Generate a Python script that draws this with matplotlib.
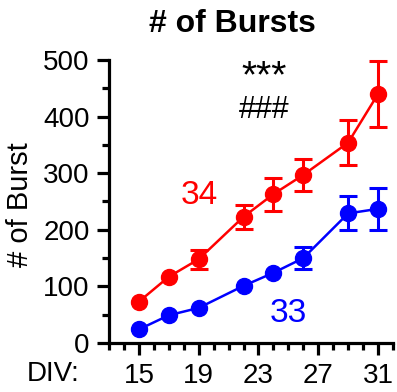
import matplotlib
matplotlib.use("Agg")
import matplotlib.pyplot as plt
from matplotlib.ticker import MultipleLocator

plt.rcParams['font.family'] = ['Liberation Sans', 'DejaVu Sans']

# data (0 = error bar hidden behind the marker)
div = [15, 17, 19, 22, 24, 26, 29, 31]
red_mean = [73, 117, 148, 223, 263, 297, 354, 440]
red_err = [0, 0, 17, 21, 29, 28, 40, 58]
blue_mean = [24, 49, 62, 101, 124, 150, 229, 237]
blue_err = [0, 0, 0, 0, 0, 19, 30, 37]
xticks = [15, 19, 23, 27, 31]
yticks = [0, 100, 200, 300, 400, 500]

fig = plt.figure(figsize=(3.97, 3.92), dpi=100)
ax = fig.add_axes([109/397, 49/392, 284/397, 283/392])

for mean, err, col in [(red_mean, red_err, '#ff0000'), (blue_mean, blue_err, '#0000ff')]:
    ax.plot(div, mean, color=col, lw=1.8, marker='o', ms=11.5, clip_on=False, zorder=4)
    shown = [i for i, e in enumerate(err) if e > 0]
    ax.errorbar([div[i] for i in shown], [mean[i] for i in shown],
                yerr=[err[i] for i in shown], fmt='none', ecolor=col,
                elinewidth=2.2, capsize=6.5, capthick=2.2, clip_on=False, zorder=3)

ax.set_xlim(13, 32)
ax.set_ylim(0, 500)
ax.set_xticks(xticks)
ax.xaxis.set_minor_locator(MultipleLocator(1))
ax.set_yticks(yticks)
ax.yaxis.set_minor_locator(MultipleLocator(50))
for s in ['top', 'right']:
    ax.spines[s].set_visible(False)
for s in ['left', 'bottom']:
    ax.spines[s].set_linewidth(2.3)
ax.tick_params(which='major', length=8.5, width=2.3, labelsize=20)
ax.tick_params(axis='y', which='major', pad=5.5)
ax.tick_params(axis='x', which='major', pad=6)
ax.tick_params(which='minor', length=5, width=2.3)
ax.set_ylabel('# of Burst', fontsize=21)
ax.yaxis.set_label_coords(-0.265, 0.49)

ax.text(-0.288, -0.108, 'DIV:', transform=ax.transAxes, fontsize=20,
        ha='left', va='center')
ax.text(23.35, 470, '***', fontsize=28, ha='center', va='center')
ax.text(23.35, 412, '###', fontsize=22, ha='center', va='center')
ax.text(19.04, 261, '34', fontsize=24, color='#ff0000', ha='center', va='center')
ax.text(24.97, 52.5, '33', fontsize=24, color='#0000ff', ha='center', va='center')

fig.text(232/397, 1 - 24/392, '# of Bursts', fontsize=23, fontweight='bold',
         ha='center', va='center')

fig.savefig('out.png', dpi=100)
